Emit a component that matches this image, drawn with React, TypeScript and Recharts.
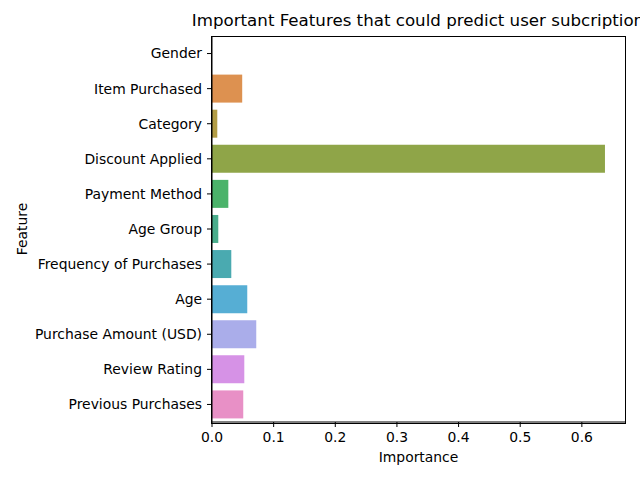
import { BarChart, Bar, XAxis, YAxis, Cell } from 'recharts'

const features = [
  'Gender',
  'Item Purchased',
  'Category',
  'Discount Applied',
  'Payment Method',
  'Age Group',
  'Frequency of Purchases',
  'Age',
  'Purchase Amount (USD)',
  'Review Rating',
  'Previous Purchases',
]
const importance = [0.0, 0.049, 0.0086, 0.6375, 0.0265, 0.0102, 0.0313, 0.0572, 0.0718, 0.0524, 0.0507]
const barColors = [
  '#e8918f', '#dd9150', '#b39d46', '#8fa548', '#4bb36a', '#4aad8c',
  '#4aaab0', '#56aed4', '#aaadea', '#d692e6', '#e890c6',
]
const xTicks = [0, 0.1, 0.2, 0.3, 0.4, 0.5, 0.6]

const font = 'DejaVu Sans, sans-serif'

export default function App() {
  const data = features.map((name, i) => ({ name, value: importance[i] }))

  return (
    <div style={{ position: 'absolute', left: 0, top: 0, width: 640, height: 480, overflow: 'hidden', background: '#fff', fontFamily: font }}>
      <BarChart
        width={640}
        height={480}
        data={data}
        layout="vertical"
        margin={{ top: 36, right: 15, bottom: 0, left: 0 }}
        barCategoryGap="10%"
      >
        <XAxis
          type="number"
          domain={[0, 0.67]}
          ticks={xTicks}
          tickFormatter={(v: number) => v.toFixed(1)}
          height={58}
          allowDataOverflow
          stroke="#000"
          tickSize={5}
          tickMargin={5}
          tick={{ fill: '#000', fontSize: 13.9, fontFamily: font }}
          label={{ value: 'Importance', position: 'insideBottom', offset: 18, fill: '#000', fontSize: 13.9, fontFamily: font }}
        />
        <YAxis
          type="category"
          dataKey="name"
          width={212}
          stroke="#000"
          tickSize={5}
          tickMargin={5}
          interval={0}
          tick={{ fill: '#000', fontSize: 13.9, fontFamily: font }}
          label={() => (
            <text x={22} y={229} transform="rotate(-90 22 229)" textAnchor="middle" dominantBaseline="central" fill="#000" fontSize={13.9} fontFamily={font}>
              Feature
            </text>
          )}
        />
        <Bar dataKey="value" isAnimationActive={false}>
          {data.map((d, i) => (
            <Cell key={d.name} fill={barColors[i]} />
          ))}
        </Bar>
      </BarChart>
      {/* axes frame (matplotlib draws all four spines) */}
      <div style={{ position: 'absolute', left: 211, top: 36, width: 413, height: 386, border: '1px solid #000', pointerEvents: 'none' }} />
      <div style={{ position: 'absolute', top: 13, left: 418, transform: 'translateX(-50%)', whiteSpace: 'nowrap', fontSize: 16.67, lineHeight: 1, color: '#000' }}>
        Important Features that could predict user subcription
      </div>
    </div>
  )
}
